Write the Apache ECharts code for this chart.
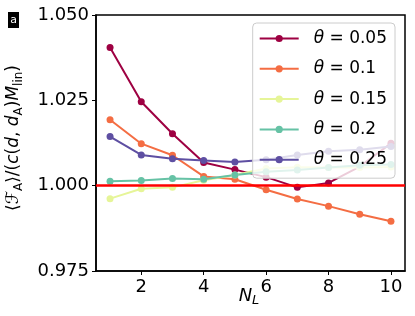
<!DOCTYPE html>
<html><head><meta charset="utf-8">
<script src="https://cdn.jsdelivr.net/npm/echarts@6/dist/echarts.min.js"></script>
<style>html,body{margin:0;padding:0;background:#fff}#c{width:415px;height:316px}</style>
</head><body><div id="c"></div>
<script>
const xValues = [1, 2, 3, 4, 5, 6, 7, 8, 9, 10];
const seriesNames = ['0.05', '0.1', '0.15', '0.2', '0.25'];
const theta005 = [1.0405, 1.0246, 1.0152, 1.0068, 1.0047, 1.0025, 0.9995, 1.0008, 1.0056, 1.0124];
const theta01  = [1.0193, 1.0123, 1.0089, 1.0027, 1.0019, 0.9988, 0.9961, 0.9940, 0.9916, 0.9896];
const theta015 = [0.9962, 0.9991, 0.9995, 1.0016, 1.0031, 1.0050, 1.0054, 1.0053, 1.0053, 1.0055];
const theta02  = [1.0013, 1.0015, 1.0021, 1.0019, 1.0031, 1.0041, 1.0046, 1.0053, 1.0060, 1.0062];
const theta025 = [1.0144, 1.0090, 1.0079, 1.0074, 1.0069, 1.0076, 1.0090, 1.0101, 1.0105, 1.0115];
const xTicks = [2, 4, 6, 8, 10];
const yTicks = [0.975, 1.000, 1.025, 1.050];
const refLine = 1.0;
const colors = ['#9e0142', '#f46d43', '#e6f598', '#66c2a5', '#5e4fa2'];
const allSeries = [theta005, theta01, theta015, theta02, theta025];

const FONT = 'DejaVu Sans';
const chart = echarts.init(document.getElementById('c'), null, {renderer: 'canvas'});

const series = allSeries.map((vals, i) => ({
  name: seriesNames[i],
  type: 'line',
  data: xValues.map((x, j) => [x, vals[j]]),
  symbol: 'circle',
  symbolSize: 7,
  color: colors[i],
  lineStyle: {width: 2, color: colors[i]},
  itemStyle: {color: colors[i]},
  emphasis: {disabled: true},
  z: 2
}));
series.push({
  name: 'ref',
  type: 'line',
  data: [],
  silent: true,
  z: 3,
  markLine: {
    silent: true,
    symbol: 'none',
    label: {show: false},
    lineStyle: {color: '#ff0000', width: 2.5, type: 'solid'},
    emphasis: {disabled: true},
    data: [{yAxis: refLine}]
  }
});

const option = {
  animation: false,
  backgroundColor: '#fff',
  textStyle: {fontFamily: FONT},
  grid: {left: 96, right: 10, top: 15, bottom: 45, show: true, borderColor: '#000', borderWidth: 1.5, backgroundColor: 'transparent'},
  xAxis: {
    type: 'value', min: 0.55, max: 10.45,
    axisLine: {show: true, lineStyle: {color: '#000', width: 1.5}},
    axisTick: {show: true, inside: false, length: 4, lineStyle: {color: '#000', width: 1}, customValues: xTicks},
    axisLabel: {color: '#000', fontFamily: FONT, fontSize: 18, margin: 7, customValues: xTicks},
    splitLine: {show: false}
  },
  yAxis: {
    type: 'value', min: 0.975, max: 1.05,
    axisLine: {show: true, lineStyle: {color: '#000', width: 1.5}},
    axisTick: {show: true, inside: false, length: 4, lineStyle: {color: '#000', width: 1}, customValues: yTicks},
    axisLabel: {color: '#000', fontFamily: FONT, fontSize: 18, margin: 7, customValues: yTicks, formatter: v => v.toFixed(3)},
    splitLine: {show: false}
  },
  legend: {
    data: seriesNames,
    orient: 'vertical',
    right: 20, top: 23,
    padding: [7, 8, 10, 6],
    itemWidth: 39, itemHeight: 9, itemGap: 13.3,
    backgroundColor: 'rgba(255,255,255,0.8)',
    borderColor: '#cccccc', borderWidth: 1, borderRadius: 4,
    formatter: n => '{i|θ}{n| = ' + n + '}',
    textStyle: {
      color: '#000', fontFamily: FONT, fontSize: 17, lineHeight: 14, padding: [0, 0, 0, 10],
      rich: {
        i: {fontFamily: FONT, fontStyle: 'italic', fontSize: 17, lineHeight: 14, color: '#000'},
        n: {fontFamily: FONT, fontSize: 17, lineHeight: 14, color: '#000'}
      }
    },
    selectedMode: false
  },
  graphic: [
    {type: 'rect', shape: {x: 8, y: 12, width: 11, height: 16}, style: {fill: '#000'}},
    {type: 'text', x: 13.5, y: 20.5, style: {text: 'a', fill: '#fff', font: '11px DejaVu Sans', align: 'center', verticalAlign: 'middle'}},
    {type: 'text', x: 14, y: 138, rotation: Math.PI / 2,
     style: {
       text: '{n|⟨}{it|ℱ}{sub|A}{n|⟩/(}{it|c}{n|(}{it|d}{n|, }{it|d}{sub|A}{n|)}{it|M}{sub|lin}{n|)}',
       align: 'center', verticalAlign: 'middle',
       rich: {
         n: {fontFamily: FONT, fontSize: 17, fill: '#000', lineHeight: 22, verticalAlign: 'middle'},
         it: {fontFamily: FONT, fontStyle: 'italic', fontSize: 17, fill: '#000', lineHeight: 22, verticalAlign: 'middle'},
         sub: {fontFamily: FONT, fontSize: 12, fill: '#000', lineHeight: 12, padding: [8, 0, 0, 0], verticalAlign: 'bottom'}
       }
     }},
    {type: 'text', x: 249, y: 296,
     style: {
       text: '{it|N}{sub|L}',
       align: 'center', verticalAlign: 'middle',
       rich: {
         it: {fontFamily: FONT, fontStyle: 'italic', fontSize: 18, fill: '#000', lineHeight: 22, verticalAlign: 'middle'},
         sub: {fontFamily: FONT, fontStyle: 'italic', fontSize: 13, fill: '#000', lineHeight: 13, padding: [8, 0, 0, 0], verticalAlign: 'bottom'}
       }
     }}
  ],
  series: series
};
chart.setOption(option);
</script>
</body></html>
